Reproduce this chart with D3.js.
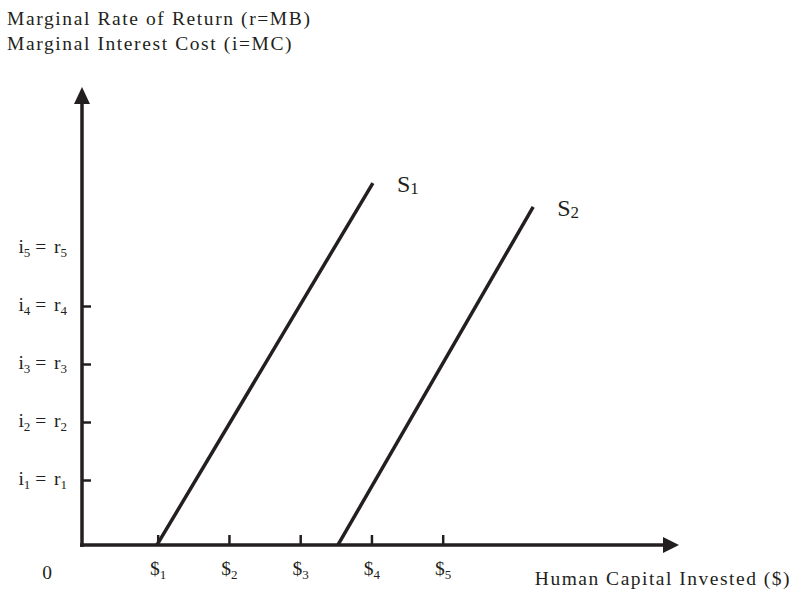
<!DOCTYPE html>
<meta charset="utf-8">
<script src="https://d3js.org/d3.v7.min.js"></script>
<style>
body { margin: 0; background: #fff; }
svg text { font-family: "Liberation Serif", "Times New Roman", serif; fill: #231f20; }
</style>
<div id="chart"></div>
<script>
// ---- data ----
var xTickValues = [1, 2, 3, 4, 5];
var xTickBase = ["$", "$", "$", "$", "$"];
var xTickSubs = ["1", "2", "3", "4", "5"];

var yTickValues = [1, 2, 3, 4, 5];
var yTickSubs = ["1", "2", "3", "4", "5"];
var yTickDrawn = [true, true, true, true, false]; // i5 has no tick mark

var supplyNames = ["S", "S"];
var supplySubs = ["1", "2"];
// each curve: start on the x axis, end at top
var supplyX = [[0.99, 4.02], [3.53, 6.27]];
var supplyY = [[-0.12, 6.12], [-0.12, 5.71]];

var yTitle = ["Marginal Rate of Return (r=MB)", "Marginal Interest Cost (i=MC)"];
var xTitle = "Human Capital Invested ($)";

// ---- layout ----
var W = 795, H = 593;
var axisX = 82, axisY = 545;
var ink = "#231f20";

var svg = d3.select("#chart").append("svg")
    .attr("width", W).attr("height", H);

var x = d3.scaleLinear().domain([1, 5]).range([157.7, 442.7]);
var y = d3.scaleLinear().domain([1, 5]).range([480, 248]);

// titles
svg.selectAll(".ytitle").data(yTitle).enter().append("text")
    .attr("x", 7)
    .attr("y", function(d, i) { return 25 + i * 24.5; })
    .attr("font-size", "19.5px")
    .attr("letter-spacing", "1.6px")
    .text(function(d) { return d; });

svg.append("text")
    .attr("x", 791).attr("y", 585)
    .attr("text-anchor", "end")
    .attr("font-size", "19.5px")
    .attr("letter-spacing", "1.5px")
    .text(xTitle);

svg.append("text")
    .attr("x", 47).attr("y", 579)
    .attr("text-anchor", "middle")
    .attr("font-size", "19.5px")
    .text("0");

// x axis ticks + labels
var gx = svg.append("g")
    .attr("transform", "translate(0," + axisY + ")")
    .call(d3.axisBottom(x).tickValues(xTickValues).tickSize(-10).tickPadding(24).tickFormat(""));
gx.select(".domain").remove();
gx.selectAll(".tick line").attr("stroke", ink).attr("stroke-width", 2.5);
gx.selectAll(".tick text").each(function(d, i) {
    var t = d3.select(this)
        .attr("font-size", "19.5px").attr("fill", ink).attr("font-family", "Liberation Serif, serif")
        .attr("dy", "0.3em");
    t.append("tspan").text(xTickBase[i]);
    t.append("tspan").attr("font-size", "13px").attr("dy", "4").text(xTickSubs[i]);
});

// y axis ticks + labels
var gy = svg.append("g")
    .attr("transform", "translate(" + axisX + ",0)")
    .call(d3.axisLeft(y).tickValues(yTickValues).tickSize(-9).tickPadding(15).tickFormat(""));
gy.select(".domain").remove();
gy.selectAll(".tick line")
    .attr("stroke", ink).attr("stroke-width", 2.5)
    .attr("display", function(d, i) { return yTickDrawn[i] ? null : "none"; });
gy.selectAll(".tick text").each(function(d, i) {
    var t = d3.select(this)
        .attr("font-size", "19.5px").attr("fill", ink).attr("font-family", "Liberation Serif, serif")
        .attr("dy", "0.25em");
    t.append("tspan").text("i");
    t.append("tspan").attr("font-size", "13px").attr("dy", "4").text(yTickSubs[i]);
    t.append("tspan").attr("dy", "-4").attr("dx", "1").text("\u2009=\u2009\u2009r");
    t.append("tspan").attr("font-size", "13px").attr("dy", "4").text(yTickSubs[i]);
});

// axis lines with arrow heads
svg.append("line")
    .attr("x1", axisX).attr("y1", axisY + 2).attr("x2", axisX).attr("y2", 102)
    .attr("stroke", ink).attr("stroke-width", 3.5);
svg.append("path")
    .attr("d", "M" + axisX + ",87 L" + (axisX - 8) + ",104 L" + (axisX + 8) + ",104 Z")
    .attr("fill", ink);
svg.append("line")
    .attr("x1", axisX - 2).attr("y1", axisY).attr("x2", 664).attr("y2", axisY)
    .attr("stroke", ink).attr("stroke-width", 3.5);
svg.append("path")
    .attr("d", "M679," + axisY + " L663," + (axisY - 8) + " L663," + (axisY + 8) + " Z")
    .attr("fill", ink);

// supply curves
var line = d3.line().x(function(d) { return x(d[0]); }).y(function(d) { return y(d[1]); });
supplyX.forEach(function(xs, k) {
    var pts = xs.map(function(v, j) { return [v, supplyY[k][j]]; });
    svg.append("path")
        .attr("d", line(pts))
        .attr("fill", "none")
        .attr("stroke", ink)
        .attr("stroke-width", 3.5);
    var lab = svg.append("text")
        .attr("x", x(xs[1]) + 24)
        .attr("y", y(supplyY[k][1]) + 9)
        .attr("font-size", "24px");
    lab.append("tspan").text(supplyNames[k]);
    lab.append("tspan").attr("font-size", "17px").attr("dy", "2").text(supplySubs[k]);
});
</script>
